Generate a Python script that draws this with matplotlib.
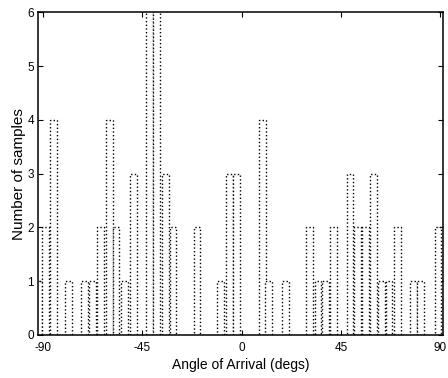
import matplotlib
matplotlib.use("Agg")
import matplotlib.pyplot as plt

# Histogram bar centres (degrees) and counts
angles = [-92.0, -89.1, -85.3, -78.4, -71.4, -67.8, -63.9, -59.9, -57.0,
          -53.3, -49.2, -41.8, -38.7, -34.6, -31.2, -20.3, -9.5, -5.6,
          -2.3, 9.2, 12.1, 19.9, 30.7, 34.5, 37.8, 41.7, 49.0, 52.5,
          56.1, 59.5, 63.3, 66.7, 70.5, 77.7, 81.0, 88.9]
counts = [1, 2, 4, 1, 1, 1, 2, 4, 2,
          1, 3, 8, 7, 3, 2, 2, 1, 3,
          3, 4, 1, 1, 2, 1, 1, 2, 3, 2,
          2, 3, 1, 1, 2, 1, 1, 2]
xticks = [-90, -45, 0, 45, 90]
yticks = [0, 1, 2, 3, 4, 5, 6]

plt.rcParams['font.family'] = ['Liberation Sans', 'DejaVu Sans']

fig = plt.figure(figsize=(4.48, 3.78), dpi=100)
ax = fig.add_axes([0.085, 0.114, 0.903, 0.853])

ax.bar(angles, counts, width=3.1, color='white', edgecolor='black',
       linewidth=1.0, linestyle=':', zorder=2)

ax.set_xlim(-92.3, 91.0)
ax.set_ylim(0, 6)
ax.set_xticks(xticks)
ax.set_xticklabels([str(v) for v in xticks])
ax.set_yticks(yticks)
ax.tick_params(direction='in', top=True, right=True, length=3.5,
               labelsize=8.5)
ax.tick_params(axis='x', pad=5)
ax.tick_params(axis='y', pad=3)
for s in ax.spines.values():
    s.set_linewidth(1.1)
    s.set_zorder(3)

ax.set_xlabel('Angle of Arrival (degs)', fontsize=10, labelpad=3)
ax.set_ylabel('Number of samples', fontsize=11, labelpad=1)

fig.savefig('out.png', dpi=100)
